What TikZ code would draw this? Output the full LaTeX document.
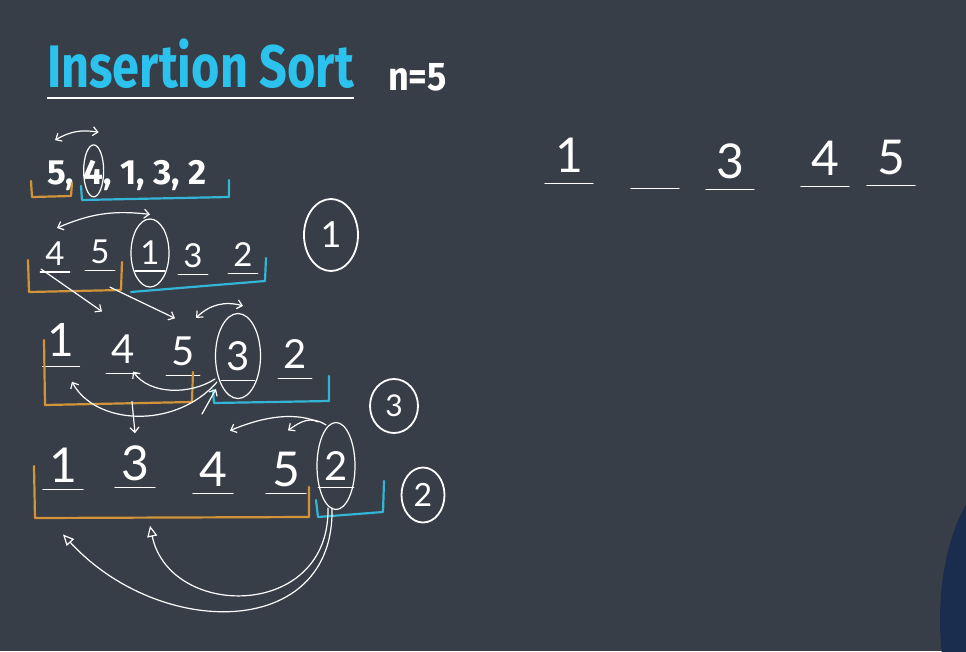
\documentclass[tikz,border=0pt]{standalone}
\usepackage{fontspec}
\setmainfont{Fira Sans}
\newfontfamily\handfont{Lato}
\usetikzlibrary{arrows.meta,shapes.geometric}
\definecolor{board}{HTML}{383E47}
\definecolor{headcyan}{HTML}{2BC3EE}
\definecolor{sortedorange}{HTML}{D39339}
\definecolor{restcyan}{HTML}{32B5D6}
\definecolor{globeblue}{HTML}{1B2D4E}
\begin{document}
\begin{tikzpicture}[x=1pt,y=-1pt,
  digit/.style={text=white, inner sep=0pt, font=\handfont\fontsize{#1}{#1}\selectfont},
  lead/.style={anchor=base west, inner sep=0pt, text=white, font=\bfseries\fontsize{35}{35}\selectfont},
  pen/.style={draw=white, line width=1.2pt, line cap=round, line join=round},
  oval/.style={pen, ellipse, inner sep=0pt},
  stepring/.style={oval, line width=1.8pt},
  sorted/.style={draw=sortedorange, line width=2.2pt, line cap=round, line join=round},
  rest/.style={draw=restcyan, line width=2.2pt, line cap=round, line join=round},
  >={Straight Barb[length=5pt,width=9pt]},
  bigtip/.style={-{Triangle[open,length=11pt,width=10pt,line width=1.2pt]}}]
\fill[board] (0,0) rectangle (966,651);
\useasboundingbox (0,0) rectangle (966,651);
\begin{scope}
\clip (0,0) rectangle (966,651);
\fill[globeblue] (1012,620) ellipse [x radius=72, y radius=150];
\end{scope}

\node[anchor=base west, inner sep=0pt, text=headcyan, font=\bfseries\fontsize{60}{60}\selectfont, xscale=.81] (title) at (47,87) {Insertion Sort};
\draw[white, line width=2pt] ([yshift=-11pt]title.base west) -- ([yshift=-11pt]title.base east);
\node[anchor=base west, inner sep=0pt, text=white, font=\bfseries\fontsize{40}{40}\selectfont, xscale=.9] (size) at (388,90) {n=5};

\node[lead] (r1a) at (47,184) {5,};
\node[lead] (r1b) at ([xshift=9pt]r1a.base east) {4};
\node[lead] (r1c) at (r1b.base east) {, 1, 3, 2};
\node[oval, minimum width=20pt, minimum height=52pt] (o1) at ([yshift=1pt]r1b.center) {};
\draw[pen,<->] ([shift={(8pt,20pt)}]r1a.north west) to[bend left=20] ([shift={(5pt,12pt)}]o1.north);
\draw[sorted] (31,181) -- (32,197) -- (71,196) -- (72,183);
\draw[rest] (81,186) -- (82,200) -- (229,197) -- (229,180);

\node[digit=33] (r2a) at (55,254) {4};
\node[digit=33] (r2b) at (100,252) {5};
\node[digit=33] (r2c) at (150,253) {1};
\node[digit=33] (r2d) at (193,256) {3};
\node[digit=33] (r2e) at (243,255) {2};
\node[oval, minimum width=38pt, minimum height=68pt] (o2) at (r2c) {};
\node[stepring, digit=36, minimum width=54pt, minimum height=72pt] (step1) at (331,235) {1};
\foreach \n in {r2a,r2b,r2c,r2d,r2e}
  \draw[pen] ([shift={(-5pt,-6pt)}]\n.south west) -- ([shift={(5pt,-6pt)}]\n.south east);
\draw[sorted] (28,260) -- (29,292) -- (121,290) -- (122,262);
\draw[rest] (131,292) -- (265,281) -- (266,258);
\draw[pen,<->] ([shift={(2pt,14pt)}]r2a.north) to[bend left=15] ([yshift=4pt]o2.north);

\node[digit=46] (r3a) at (61,340) {1};
\node[digit=40] (r3b) at (123,349) {4};
\node[digit=40] (r3c) at (183,351) {5};
\node[digit=40] (r3d) at (238,356) {3};
\node[digit=40] (r3e) at (295,354) {2};
\node[oval, minimum width=45pt, minimum height=85pt] (o3) at (r3d) {};
\node[stepring, digit=30, minimum width=48pt, minimum height=54pt] (step3) at (394,406) {3};
\foreach \n in {r3a,r3b,r3c,r3d,r3e}
  \draw[pen] ([shift={(-5pt,-10pt)}]\n.south west) -- ([shift={(5pt,-10pt)}]\n.south east);
\draw[sorted] (44,340) -- (45,405) -- (192,402) -- (193,372);
\draw[rest] (213,390) -- (214,403) -- (329,401) -- (329,376);
\draw[pen,->] ([shift={(-14pt,-3pt)}]r2a.south) -- ([shift={(-21pt,23pt)}]r3b.north);
\draw[pen,->] ([shift={(10pt,-23pt)}]r2b.south) -- ([shift={(-8pt,18pt)}]r3c.north);
\draw[pen,<->] ([shift={(-42pt,-5pt)}]o3.north) to[bend left=30] ([shift={(5pt,7pt)}]o3.north);
\draw[pen,->] ([shift={(-21pt,-26pt)}]o3.center) .. controls (175,430) and (95,425) .. ([shift={(11pt,-25pt)}]r3a.south);
\draw[pen,->] ([shift={(-23pt,-23pt)}]o3.center) .. controls (190,395) and (150,395) .. ([shift={(10pt,-8pt)}]r3b.south);
\draw[pen,->] ([shift={(-36pt,-58pt)}]o3.center) -- ([shift={(-22pt,-33pt)}]o3.center);

\node[digit=48] (r4a) at (63,465) {1};
\node[digit=48] (r4b) at (135,463) {3};
\node[digit=48] (r4c) at (213,469) {4};
\node[digit=48] (r4d) at (286,469) {5};
\node[digit=40] (r4e) at (336,466) {2};
\node[oval, minimum width=38pt, minimum height=87pt] (o4) at (r4e) {};
\node[stepring, digit=32, minimum width=43pt, minimum height=55pt] (step2) at (423,495) {2};
\foreach \n in {r4a,r4b,r4c,r4d,r4e}
  \draw[pen] ([shift={(-6pt,-7pt)}]\n.south west) -- ([shift={(6pt,-7pt)}]\n.south east);
\draw[sorted] (34,466) -- (35,518) -- (309,517) -- (309,487);
\draw[rest] (316,500) -- (318,517) -- (383,512) -- (384,481);
\draw[pen,->] ([shift={(9pt,-38pt)}]r3b.south) -- ([yshift=12pt]r4b.north);
\draw[pen,->] ([xshift=-18pt]o4.north) .. controls (290,410) and (255,420) .. ([shift={(17pt,21pt)}]r4c.north);
\draw[pen,->] ([shift={(-10pt,-3pt)}]o4.north) .. controls (310,415) and (300,422) .. ([shift={(2pt,21pt)}]r4d.north);
\draw[pen,bigtip] ([shift={(-4pt,-42pt)}]o4.center) .. controls (335,640) and (160,640) .. ([yshift=-52pt]r4a.south);
\draw[pen,bigtip] ([shift={(-8pt,-42pt)}]o4.center) .. controls (330,620) and (170,620) .. ([shift={(15pt,-45pt)}]r4b.south);

\node[digit=48] (f1) at (569,155) {1};
\node[digit=48] (f2) at (655,160) {\phantom{0}};
\node[digit=48] (f3) at (730,161) {3};
\node[digit=48] (f4) at (825,158) {4};
\node[digit=48] (f5) at (891,157) {5};
\foreach \n in {f1,f2,f3,f4,f5}
  \draw[pen] ([shift={(-10pt,-11pt)}]\n.south west) -- ([shift={(10pt,-11pt)}]\n.south east);
\end{tikzpicture}
\end{document}
